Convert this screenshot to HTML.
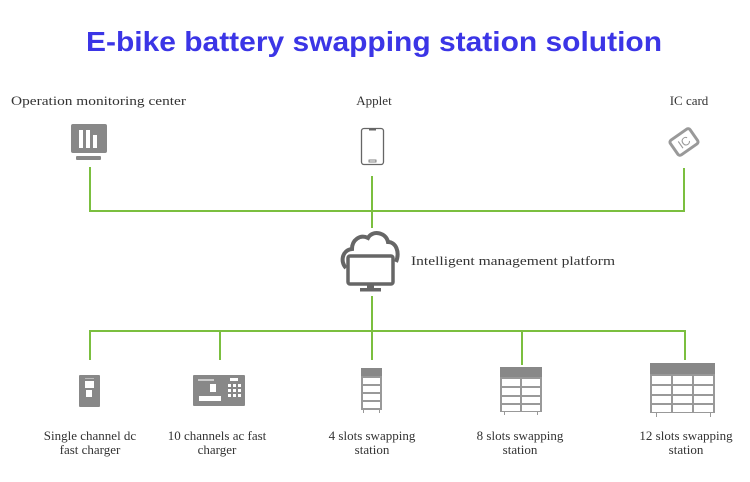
<!DOCTYPE html>
<html><head><meta charset="utf-8"><style>
html,body{margin:0;padding:0;background:#fff;width:750px;height:482px;overflow:hidden}
svg{display:block}
.t{font-family:"Liberation Serif",serif;font-size:13px;fill:#333}
</style></head><body>
<svg width="750" height="482" viewBox="0 0 750 482" xmlns="http://www.w3.org/2000/svg">
<text x="374" y="51" text-anchor="middle" font-family="Liberation Sans, Arial, sans-serif" font-weight="bold" font-size="28" fill="#3b35e6" textLength="576" lengthAdjust="spacingAndGlyphs">E-bike battery swapping station solution</text>

<text class="t" x="11" y="105" textLength="175" lengthAdjust="spacingAndGlyphs">Operation monitoring center</text>
<text class="t" x="374" y="105" text-anchor="middle">Applet</text>
<text class="t" x="689" y="105" text-anchor="middle">IC card</text>

<rect x="71" y="124" width="36" height="29" rx="2" fill="#888"/>
<rect x="79" y="130" width="4" height="18" fill="#fff"/>
<rect x="86" y="130" width="4" height="18" fill="#fff"/>
<rect x="93" y="135" width="4" height="13" fill="#fff"/>
<rect x="76" y="156" width="25" height="4" rx="1" fill="#888"/>

<rect x="361.5" y="128.5" width="22" height="36" rx="2.5" fill="#fff" stroke="#666" stroke-width="1.3"/>
<rect x="369" y="129" width="7" height="1.5" fill="#666"/>
<rect x="369" y="160" width="7" height="2" fill="none" stroke="#666" stroke-width="0.8"/>

<g transform="translate(684,142) rotate(-35)">
<rect x="-12" y="-9" width="24" height="18" rx="2.5" fill="#fff" stroke="#999" stroke-width="3"/>
<text x="0" y="4.5" text-anchor="middle" font-family="Liberation Sans,sans-serif" font-size="12" fill="#999">IC</text>
</g>

<g stroke="#7bbf3f" stroke-width="2" fill="none">
<path d="M90 167 V211 H684 V168"/>
<path d="M372 176 V228"/>
<path d="M372 296 V360"/>
<path d="M90 360 V331 H685 V360"/>
<path d="M220 331 V360"/>
<path d="M522 331 V365"/>
</g>

<g fill="none" stroke="#666" stroke-width="4">
<path d="M346 268 C340 262 342 250 352 249 C352 240 360 234 368 238 C372 230 386 232 388 242 C396 242 400 252 396 262"/>
</g>
<rect x="348" y="256" width="45" height="28" rx="2" fill="#fff" stroke="#666" stroke-width="3.5"/>
<rect x="352" y="260" width="37" height="14" fill="#fff"/>
<rect x="367" y="284" width="7" height="5" fill="#666"/>
<rect x="360" y="288" width="21" height="3.5" fill="#666"/>
<text class="t" x="411" y="265" textLength="204" lengthAdjust="spacingAndGlyphs">Intelligent management platform</text>

<rect x="79" y="375" width="21" height="32" rx="1" fill="#888"/>
<rect x="85" y="381" width="9" height="7" fill="#fff"/>
<rect x="86" y="390" width="6" height="7" fill="#fff"/>
<rect x="85" y="378" width="9" height="1" fill="#bbb"/>

<rect x="193" y="375" width="52" height="31" rx="1" fill="#888"/>
<rect x="198" y="379" width="16" height="2" fill="#ccc"/>
<rect x="210" y="384" width="6" height="8" fill="#fff"/>
<rect x="199" y="396" width="22" height="5" fill="#fff"/>
<rect x="230" y="378" width="8" height="3" fill="#fff"/>
<g fill="#fff">
<rect x="228" y="384" width="3" height="3"/><rect x="233" y="384" width="3" height="3"/><rect x="238" y="384" width="3" height="3"/>
<rect x="228" y="389" width="3" height="3"/><rect x="233" y="389" width="3" height="3"/><rect x="238" y="389" width="3" height="3"/>
<rect x="228" y="394" width="3" height="3"/><rect x="233" y="394" width="3" height="3"/><rect x="238" y="394" width="3" height="3"/>
</g>

<rect x="361" y="368" width="21" height="42" fill="#999"/>
<rect x="361" y="368" width="21" height="8" fill="#888"/>
<g fill="#fff"><rect x="363" y="378" width="17" height="6"/><rect x="363" y="386" width="17" height="6"/><rect x="363" y="394" width="17" height="6"/><rect x="363" y="402" width="17" height="6"/></g>
<rect x="363" y="410" width="1" height="3" fill="#999"/><rect x="379" y="410" width="1" height="3" fill="#999"/>

<rect x="500" y="367" width="42" height="45" fill="#999"/>
<rect x="500" y="367" width="42" height="10" fill="#888"/>
<g fill="#fff">
<rect x="502" y="379" width="18" height="7"/><rect x="522" y="379" width="18" height="7"/>
<rect x="502" y="388" width="18" height="7"/><rect x="522" y="388" width="18" height="7"/>
<rect x="502" y="397" width="18" height="6"/><rect x="522" y="397" width="18" height="6"/>
<rect x="502" y="405" width="18" height="6"/><rect x="522" y="405" width="18" height="6"/>
</g>
<rect x="504" y="412" width="1" height="3" fill="#999"/><rect x="537" y="412" width="1" height="3" fill="#999"/>

<rect x="650" y="363" width="65" height="50" fill="#999"/>
<rect x="650" y="363" width="65" height="11" fill="#888"/>
<g fill="#fff">
<rect x="652" y="376" width="19" height="8"/><rect x="673" y="376" width="19" height="8"/><rect x="694" y="376" width="19" height="8"/>
<rect x="652" y="386" width="19" height="8"/><rect x="673" y="386" width="19" height="8"/><rect x="694" y="386" width="19" height="8"/>
<rect x="652" y="396" width="19" height="7"/><rect x="673" y="396" width="19" height="7"/><rect x="694" y="396" width="19" height="7"/>
<rect x="652" y="405" width="19" height="7"/><rect x="673" y="405" width="19" height="7"/><rect x="694" y="405" width="19" height="7"/>
</g>
<rect x="656" y="413" width="1" height="4" fill="#999"/><rect x="710" y="413" width="1" height="4" fill="#999"/>

<text class="t" x="90" y="440" text-anchor="middle">Single channel dc</text>
<text class="t" x="90" y="454" text-anchor="middle">fast charger</text>
<text class="t" x="217" y="440" text-anchor="middle">10 channels ac fast</text>
<text class="t" x="217" y="454" text-anchor="middle">charger</text>
<text class="t" x="372" y="440" text-anchor="middle">4 slots swapping</text>
<text class="t" x="372" y="454" text-anchor="middle">station</text>
<text class="t" x="520" y="440" text-anchor="middle">8 slots swapping</text>
<text class="t" x="520" y="454" text-anchor="middle">station</text>
<text class="t" x="686" y="440" text-anchor="middle">12 slots swapping</text>
<text class="t" x="686" y="454" text-anchor="middle">station</text>
</svg>
</body></html>
